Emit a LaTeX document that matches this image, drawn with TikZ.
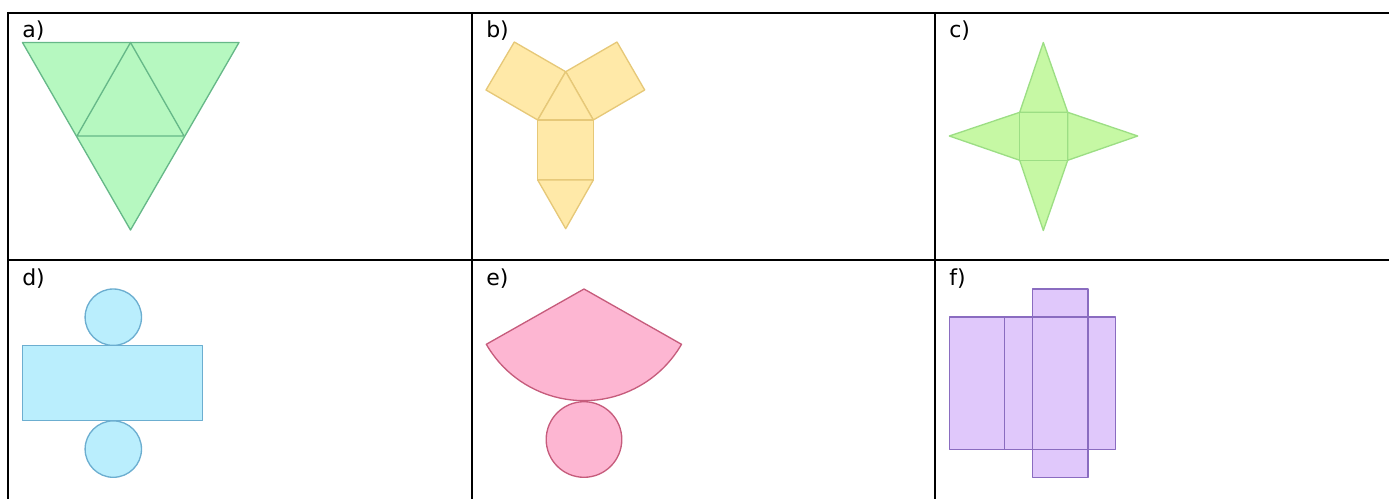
\documentclass[tikz,border=0pt]{standalone}
\usepackage{fontspec}
\setmainfont{DejaVu Sans}
\usepackage{xcolor}
\definecolor{greenfill}{HTML}{B6F8C0}
\definecolor{greenline}{HTML}{66B888}
\definecolor{yellowfill}{HTML}{FFE9A8}
\definecolor{yellowline}{HTML}{E6C878}
\definecolor{limefill}{HTML}{C6F8A4}
\definecolor{limeline}{HTML}{9CDE84}
\definecolor{bluefill}{HTML}{BAEEFD}
\definecolor{blueline}{HTML}{6CAED0}
\definecolor{pinkfill}{HTML}{FDB6D2}
\definecolor{pinkline}{HTML}{C65C7C}
\definecolor{purplefill}{HTML}{E0C8FB}
\definecolor{purpleline}{HTML}{8A6CC0}
\tikzstyle{gridline} = [line width=1.5pt, black]
\tikzstyle{celllabel} = [anchor=base west, inner sep=0pt, font=\fontsize{16.5}{19}\selectfont]
\tikzstyle{netgreen} = [fill=greenfill, draw=greenline, line width=1pt, line join=round]
\tikzstyle{netyellow} = [fill=yellowfill, draw=yellowline, line width=1pt, line join=round]
\tikzstyle{netlime} = [fill=limefill, draw=limeline, line width=1pt, line join=round]
\tikzstyle{netblue} = [fill=bluefill, draw=blueline, line width=1pt, line join=round]
\tikzstyle{netpink} = [fill=pinkfill, draw=pinkline, line width=1pt, line join=round]
\tikzstyle{netpurple} = [fill=purplefill, draw=purpleline, line width=1pt, line join=round]
\begin{document}
\begin{tikzpicture}[x=0.75pt, y=-0.75pt]
  \useasboundingbox (0,0) rectangle (1389,499);

  % Table lines
  \draw[gridline](7.5,13)--(1389,13);
  \draw[gridline](7.5,260)--(1389,260);
  \draw[gridline](7.5,12)--(7.5,499);
  \draw[gridline](472,12)--(472,499);
  \draw[gridline](935,12)--(935,499);

  % Labels
  \node[celllabel](la) at (22,38){a)};
  \node[celllabel](lb) at (486,38){b)};
  \node[celllabel](lc) at (949,38){c)};
  \node[celllabel](ld) at (22,286){d)};
  \node[celllabel](le) at (486,286){e)};
  \node[celllabel](lf) at (949,286){f)};

  % a) triangles
  \draw[netgreen](22.5,42.5)--(239,42.5)--(130.5,230)--cycle;
  \draw[netgreen](130.5,42.5)--(184,136)--(77,136)--cycle;

  % b) three squares and two triangles
  \draw[netyellow](565.7,71.7)--(537.7,120)--(486,90)--(514.3,42)--cycle;
  \draw[netyellow](565.7,71.7)--(593.3,120)--(644.7,90)--(617,42)--cycle;
  \draw[netyellow](565.7,71.7)--(593.3,120)--(537.7,120)--cycle;
  \draw[netyellow](537.7,120) rectangle (593.3,180);
  \draw[netyellow](537.7,180)--(593.3,180)--(565.7,228.7)--cycle;

  % c) square with four triangles
  \draw[netlime](1019.7,112.3)--(1043.3,42.5)--(1067.7,112.3)--cycle;
  \draw[netlime](1019.7,160.3)--(1043.3,230.5)--(1067.7,160.3)--cycle;
  \draw[netlime](1019.7,112.3)--(949.3,136)--(1019.7,160.3)--cycle;
  \draw[netlime](1067.7,112.3)--(1137.7,136)--(1067.7,160.3)--cycle;
  \draw[netlime](1019.7,112.3) rectangle (1067.7,160.3);

  % d) cylinder
  \draw[netblue](113.3,317.2) circle (28.2);
  \draw[netblue](113.3,449.1) circle (28.2);
  \draw[netblue](22.3,345.3) rectangle (202.7,420.7);

  % e) cone
  \draw[netpink](584,289)--(486.3,344.3) arc[start angle=150, end angle=30, radius=112.7]--cycle;
  \draw[netpink](584,439.5) circle (37.8);

  % f) box
  \draw[netpurple](1032.3,289) rectangle (1088,477.3);
  \draw[netpurple](949.3,317) rectangle (1115.7,449.7);
  \draw[purpleline, line width=1pt](1004.3,317)--(1004.3,449.7);
  \draw[purpleline, line width=1pt](1032.3,317)--(1032.3,449.7);
  \draw[purpleline, line width=1pt](1088,317)--(1088,449.7);
\end{tikzpicture}
\end{document}
